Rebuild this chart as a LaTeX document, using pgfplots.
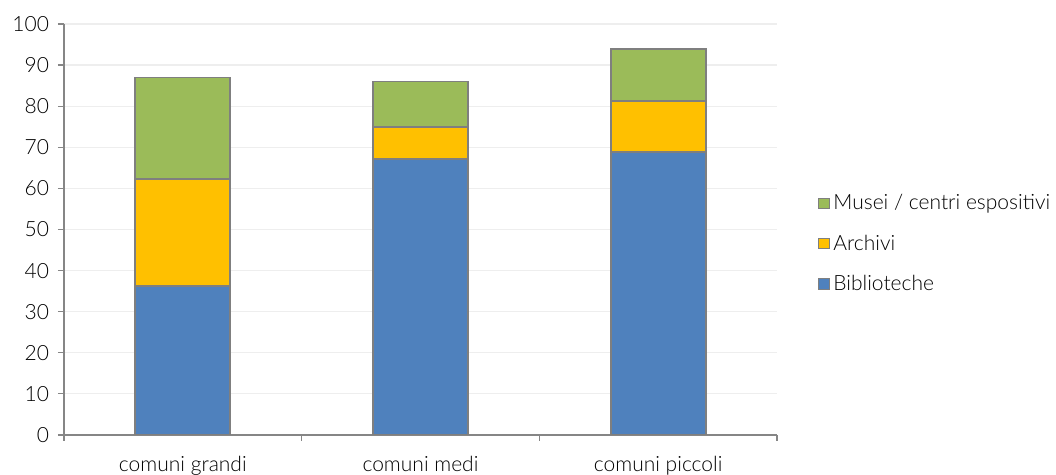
\documentclass[border=0pt]{standalone}
\usepackage{fontspec}
\setmainfont{Lato Light}
\usepackage{pgfplots}
\pgfplotsset{compat=1.18}
\definecolor{cBib}{HTML}{4F81BD}
\definecolor{cArc}{HTML}{FFC000}
\definecolor{cMus}{HTML}{9BBB59}
\definecolor{cEdge}{HTML}{7F7F7F}
\definecolor{cAxis}{HTML}{868686}
\definecolor{cGrid}{HTML}{EEEEEE}
\begin{document}
\begin{tikzpicture}
\useasboundingbox (-32pt,-20pt) rectangle (496pt,217.5pt);
\begin{axis}[
  at={(0,0)}, anchor=south west,
  scale only axis,
  width=356.5pt, height=205.5pt,
  ybar stacked,
  bar width=47.5pt,
  xmin=-0.5, xmax=2.5,
  ymin=0, ymax=100,
  ytick={0,10,...,100},
  xtick={0,1,2},
  xticklabels={comuni grandi, comuni medi, comuni piccoli},
  major x tick style={draw=none},
  extra x ticks={-0.5,0.5,1.5,2.5},
  extra x tick labels={},
  extra x tick style={major x tick style={draw=cAxis, line width=0.6pt}, grid=none, major tick length=3pt},
  axis x line=bottom, axis y line=left,
  axis line style={-, draw=cAxis, line width=0.6pt},
  tick align=outside,
  major tick length=3pt,
  ytick style={draw=cAxis, line width=0.6pt},
  ymajorgrids,
  grid style={draw=cGrid, line width=0.6pt},
  tick label style={font=\fontsize{10.5}{12}\selectfont, text=black},
  yticklabel style={xshift=-1pt},
  xticklabel style={yshift=-4pt},
  /pgf/number format/assume math mode=true,
  legend style={draw=none, fill=none, at={(1.049,0.465)}, anchor=west,
    font=\fontsize{10.5}{12}\selectfont, row sep=7pt,
    /tikz/every even column/.append style={column sep=1pt}},
  legend cell align=left,
  reverse legend,
  legend image code/.code={\draw[#1, draw=cEdge, line width=0.4pt] (0cm,-0.085cm) rectangle (0.18cm,0.095cm);},
]
\addplot[fill=cBib, draw=cEdge, line width=0.9pt] coordinates {(0,36.25) (1,67.15) (2,68.9)};
\addplot[fill=cArc, draw=cEdge, line width=0.9pt] coordinates {(0,25.95) (1,7.85) (2,12.4)};
\addplot[fill=cMus, draw=cEdge, line width=0.9pt] coordinates {(0,24.8) (1,11.0) (2,12.6)};
\legend{Biblioteche, Archivi, Musei / centri espositivi}
\end{axis}
\end{tikzpicture}
\end{document}
